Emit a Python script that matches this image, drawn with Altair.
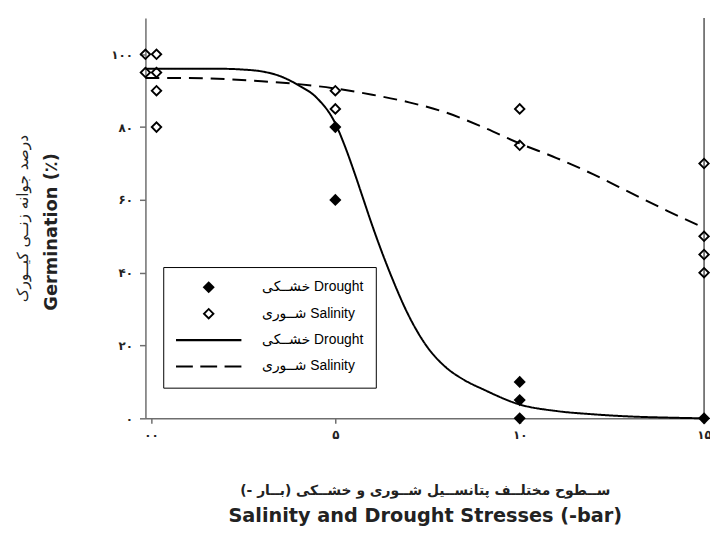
import altair as alt
import pandas as pd

# ---------------- data ----------------
x_tick_values = [0, 5, 10, 15]
x_tick_labels = ["۰۰", "۵", "۱۰", "۱۵"]
y_tick_values = [0, 20, 40, 60, 80, 100]
y_tick_labels = ["۰", "۲۰", "۴۰", "۶۰", "۸۰", "۱۰۰"]

# observed germination (%)
drought_x = [5, 5, 10, 10, 10, 15]
drought_y = [80, 60, 10, 5, 0, 0]
salinity_x = [-0.15, 0.15, -0.15, 0.15, 0.15, 0.15, 5, 5, 10, 10, 15, 15, 15, 15]
salinity_y = [100, 100, 95, 95, 90, 80, 90, 85, 85, 75, 70, 50, 45, 40]

# fitted curves
drought_curve_x = [-0.15, 1, 2, 2.5, 3, 3.5, 4, 4.5, 5, 5.25, 5.5, 5.75, 6, 6.5,
                   7, 7.5, 8, 8.5, 9, 10, 11, 12, 13, 14, 15]
drought_curve_y = [96, 96, 96, 95.8, 95.3, 94, 91.5, 88, 81, 75, 68, 60.5, 53, 39.5,
                   28, 19.5, 14, 10.5, 8, 3.8, 2, 1.1, 0.5, 0.2, 0]
salinity_curve_x = [-0.15, 1, 2, 3, 4, 5, 6, 7, 8, 9, 10, 11, 12, 13, 14, 15]
salinity_curve_y = [93.5, 93.5, 93.2, 92.6, 91.8, 90.6, 88.9, 86.8, 84.0, 80.0,
                    75.5, 71.5, 67.0, 62.0, 57.0, 52.3]

series_keys = ["Drought points", "Salinity points", "Drought curve", "Salinity curve"]
series_labels = ["خشــکی Drought", "شــوری Salinity", "خشــکی Drought", "شــوری Salinity"]

x_title_fa = "ســطوح مختلــف پتانســیل شــوری و خشــکی (بــار -)\u200f"
x_title_en = "Salinity and Drought Stresses (-bar)"
y_title_fa = "درصد جوانه زنــی کیــورک"
y_title_en = "Germination (٪)"

x_domain = [-0.15, 15]
y_domain = [0, 110]

# ---------------- tables ----------------
points = pd.DataFrame({
    "x": drought_x + salinity_x,
    "y": drought_y + salinity_y,
    "key": [series_keys[0]] * len(drought_x) + [series_keys[1]] * len(salinity_x),
})
curves = pd.DataFrame({
    "x": drought_curve_x + salinity_curve_x,
    "y": drought_curve_y + salinity_curve_y,
    "key": [series_keys[2]] * len(drought_curve_x) + [series_keys[3]] * len(salinity_curve_x),
})
edge = pd.DataFrame({"x": [x_domain[1]]})


def label_expr(values, labels, field="datum.value"):
    expr = "''"
    for v, l in reversed(list(zip(values, labels))):
        vv = f"'{v}'" if isinstance(v, str) else v
        expr = f"{field} == {vv} ? '{l}' : ({expr})"
    return expr


FONT = "Liberation Sans, DejaVu Sans"
AXIS_GRAY = "#6e6e6e"
INK = "#222"

x_scale = alt.Scale(domain=x_domain, nice=False, zero=False)
y_scale = alt.Scale(domain=y_domain, nice=False, zero=False)

# main axes: ticks, labels, English titles
x_axis = alt.Axis(
    orient="bottom", values=x_tick_values, labelExpr=label_expr(x_tick_values, x_tick_labels),
    tickSize=5, labelPadding=6, labelFlush=False,
    labelFont="DejaVu Sans", labelFontSize=12, labelFontWeight="bold", labelColor=INK,
    title=x_title_en, titleFont="DejaVu Sans", titleFontSize=19.5, titleFontWeight="bold",
    titleColor=INK, titleY=89,
    grid=False, domainColor=AXIS_GRAY, domainWidth=1.5, tickColor=AXIS_GRAY, tickWidth=1.5,
)
y_axis = alt.Axis(
    orient="left", values=y_tick_values, labelExpr=label_expr(y_tick_values, y_tick_labels),
    tickSize=6, labelPadding=7,
    labelFont="DejaVu Sans", labelFontSize=12, labelFontWeight="bold", labelColor=INK,
    title=y_title_en, titleFont="DejaVu Sans", titleFontSize=18, titleFontWeight="bold",
    titleColor=INK, titleX=-86, titleY=216,
    grid=False, domainColor=AXIS_GRAY, domainWidth=1.5, tickColor=AXIS_GRAY, tickWidth=1.5,
)
# companion axes carrying only the Persian titles
x_axis_fa = alt.Axis(
    orient="bottom", labels=False, ticks=False, domain=False, grid=False,
    title=x_title_fa, titleFont="DejaVu Sans", titleFontSize=14, titleFontWeight="bold",
    titleColor=INK, titleY=66,
)
y_axis_fa = alt.Axis(
    orient="left", labels=False, ticks=False, domain=False, grid=False,
    title=y_title_fa, titleFont="DejaVu Sans", titleFontSize=15.5, titleFontWeight="normal",
    titleColor=INK, titleX=-116,
)

# symbol shapes (unit coordinates, drawn by fill only)
filled_diamond = "M0,-1L1,0L0,1L-1,0Z"
open_diamond = "M0,-1L1,0L0,1L-1,0Z M0,-0.56L-0.56,0L0,0.56L0.56,0Z"
solid_symbol = "M-5.4,-0.17L5.4,-0.17L5.4,0.17L-5.4,0.17Z"
dashed_symbol = ("M-5.4,-0.17L-2.62,-0.17L-2.62,0.17L-5.4,0.17Z "
                 "M-1.39,-0.17L1.39,-0.17L1.39,0.17L-1.39,0.17Z "
                 "M2.62,-0.17L5.4,-0.17L5.4,0.17L2.62,0.17Z")

legend = alt.Legend(
    title=None, orient="none", legendX=18, legendY=252, direction="vertical",
    strokeColor="black", fillColor="white", padding=12,
    symbolSize=150, symbolOffset=27, labelOffset=47, rowPadding=9.7, clipHeight=17,
    labelFont=FONT, labelFontSize=14, labelColor="black", labelLimit=300,
    labelExpr=label_expr(series_keys, series_labels, "datum.label"),
    symbolStrokeColor="black", symbolFillColor="black",
)

shape = alt.Shape("key:N", scale=alt.Scale(domain=series_keys,
                  range=[filled_diamond, open_diamond, solid_symbol, dashed_symbol]), legend=legend)
dash = alt.StrokeDash("key:N", scale=alt.Scale(domain=series_keys,
                      range=[[1, 0], [1, 0], [1, 0], [14, 8]]), legend=legend)

border = alt.Chart(edge).mark_rule(color="#555", strokeWidth=1.5).encode(
    x=alt.X("x:Q", scale=x_scale, axis=None)
)
lines = alt.Chart(curves).mark_line(color="black", strokeWidth=2, interpolate="monotone").encode(
    x=alt.X("x:Q", scale=x_scale, axis=x_axis_fa),
    y=alt.Y("y:Q", scale=y_scale, axis=y_axis_fa),
    strokeDash=dash, order="x:Q",
)
pts = alt.Chart(points).mark_point(filled=True, fill="black", strokeWidth=0,
                                   size=150, opacity=1).encode(
    x=alt.X("x:Q", scale=x_scale, axis=x_axis),
    y=alt.Y("y:Q", scale=y_scale, axis=y_axis),
    shape=shape, strokeDash=dash,
)

chart = alt.layer(border, lines, pts).resolve_axis(x="independent", y="independent").properties(
    width=565, height=405,
    padding={"left": 139, "top": 7, "right": 6, "bottom": 114},
    autosize=alt.AutoSizeParams(type="none"),
).configure_view(stroke="transparent")

chart.save("out.html", embed_options={"renderer": "svg", "actions": False})
